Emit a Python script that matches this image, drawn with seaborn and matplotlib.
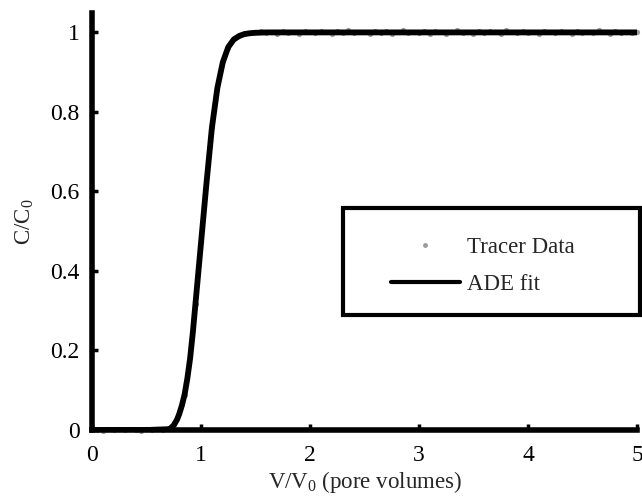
import matplotlib
matplotlib.use("Agg")
import matplotlib.pyplot as plt
from matplotlib.patches import Rectangle
from matplotlib.lines import Line2D
import seaborn as sns
import pandas as pd

# ---- data ----
tracer_v = [0.00, 0.05, 0.10, 0.15, 0.20, 0.25, 0.30, 0.35, 0.40, 0.45,
            0.50, 0.55, 0.60, 0.65, 0.70, 0.75, 0.80, 0.85, 0.90, 0.95,
            1.00, 1.05, 1.10, 1.15, 1.20, 1.25, 1.30, 1.35, 1.40, 1.45,
            1.50, 1.55, 1.60, 1.65, 1.70, 1.75, 1.80, 1.85, 1.90, 1.95,
            2.00, 2.05, 2.10, 2.15, 2.20, 2.25, 2.30, 2.35, 2.40, 2.45,
            2.50, 2.55, 2.60, 2.65, 2.70, 2.75, 2.80, 2.85, 2.90, 2.95,
            3.00, 3.05, 3.10, 3.15, 3.20, 3.25, 3.30, 3.35, 3.40, 3.45,
            3.50, 3.55, 3.60, 3.65, 3.70, 3.75, 3.80, 3.85, 3.90, 3.95,
            4.00, 4.05, 4.10, 4.15, 4.20, 4.25, 4.30, 4.35, 4.40, 4.45,
            4.50, 4.55, 4.60, 4.65, 4.70, 4.75, 4.80, 4.85, 4.90, 4.95,
            5.00]
tracer_c = [0.003, 0.001, -0.002, 0.002, 0.000, 0.003, -0.001, 0.002, 0.001, -0.002,
            0.002, 0.000, 0.003, -0.001, 0.003, 0.014, 0.042, 0.088, 0.183, 0.318,
            0.472, 0.618, 0.762, 0.857, 0.927, 0.962, 0.985, 0.991, 0.996, 0.998,
            1.002, 1.003, 0.998, 1.001, 0.997, 1.004, 0.999, 1.002, 0.996, 1.003,
            1.000, 0.998, 1.004, 1.001, 0.997, 1.003, 0.999, 1.005, 0.998, 1.002,
            1.000, 0.997, 1.004, 0.999, 1.003, 0.996, 1.001, 1.005, 0.998, 1.002,
            0.999, 1.004, 0.997, 1.003, 1.000, 0.996, 1.002, 1.005, 0.999, 1.001,
            0.997, 1.004, 0.998, 1.003, 1.000, 0.997, 1.005, 1.001, 0.998, 1.003,
            0.999, 1.002, 0.996, 1.004, 1.000, 0.998, 1.003, 1.001, 0.997, 1.004,
            0.999, 1.002, 0.998, 1.005, 1.000, 0.997, 1.003, 0.999, 1.002, 0.998,
            1.001]

fit_v = [0.0, 0.5, 0.7, 0.72, 0.75, 0.78, 0.8, 0.825, 0.85, 0.875, 0.9, 0.925,
         0.95, 1.0, 1.05, 1.1, 1.15, 1.2, 1.25, 1.3, 1.35, 1.4, 1.45, 1.5,
         1.6, 2.0, 3.0, 4.0, 5.0]
fit_c = [0.0, 0.0, 0.002, 0.004, 0.012, 0.026, 0.04, 0.062, 0.09, 0.13, 0.18, 0.245,
         0.32, 0.47, 0.62, 0.76, 0.86, 0.925, 0.963, 0.982, 0.991, 0.996, 0.998, 0.999,
         1.0, 1.0, 1.0, 1.0, 1.0]

x_ticks = [0, 1, 2, 3, 4, 5]
x_tick_labels = ["0", "1", "2", "3", "4", "5"]
y_ticks = [0, 0.2, 0.4, 0.6, 0.8, 1.0]
y_tick_labels = ["0", "0.2", "0.4", "0.6", "0.8", "1"]

series_labels = ["Tracer Data", "ADE fit"]
x_label = "V/V$_\\mathregular{0}$ (pore volumes)"
y_label = "C/C$_\\mathregular{0}$"

# ---- styling ----
sns.set_style("ticks")
plt.rcParams["font.family"] = ["Liberation Serif", "DejaVu Serif"]
plt.rcParams["mathtext.fontset"] = "custom"
plt.rcParams["mathtext.rm"] = "Liberation Serif"
plt.rcParams["mathtext.it"] = "Liberation Serif:italic"
plt.rcParams["font.size"] = 16

tracer_df = pd.DataFrame({"V": tracer_v, "C": tracer_c})
fit_df = pd.DataFrame({"V": fit_v, "C": fit_c})

fig = plt.figure(figsize=(6.42, 4.97), dpi=100)
ax = fig.add_axes([0.1433, 0.1348, 0.8489, 0.8384])

sns.scatterplot(data=tracer_df, x="V", y="C", ax=ax, color="#9a9a9a", s=14,
                linewidth=0, zorder=1, clip_on=False)
sns.lineplot(data=fit_df, x="V", y="C", ax=ax, color="black", linewidth=4.2,
             zorder=2, sort=False)

ax.set_xlim(0, 5)
ax.set_ylim(0, 1.048)
ax.set_xticks(x_ticks)
ax.set_xticklabels(x_tick_labels)
ax.set_yticks(y_ticks)
ax.set_yticklabels(y_tick_labels)
ax.tick_params(axis="both", direction="in", length=4, width=2.5, labelsize=17,
               colors="black")
ax.tick_params(axis="x", pad=11)
ax.tick_params(axis="y", pad=9)

for side in ["top", "right"]:
    ax.spines[side].set_visible(False)
for side in ["left", "bottom"]:
    ax.spines[side].set_linewidth(4)
    ax.spines[side].set_color("black")

ax.set_xlabel(x_label, fontsize=16.5, labelpad=2)
ax.set_ylabel(y_label, fontsize=16.5, labelpad=10)

# legend box (enlarged frame as in the reference)
ax.add_patch(Rectangle((0.4606, 0.276), 0.545, 0.257, transform=ax.transAxes,
                       fill=True, facecolor="white", edgecolor="black",
                       linewidth=3, clip_on=False, zorder=5))
handles = [Line2D([], [], linestyle="none", marker="o", markersize=3.5,
                  markerfacecolor="#9a9a9a", markeredgewidth=0),
           Line2D([], [], color="black", linewidth=3)]
leg = ax.legend(handles, series_labels, loc="center left",
                bbox_to_anchor=(0.5486, 0.393), frameon=False, borderpad=0,
                borderaxespad=0, handlelength=3.0, handletextpad=0.3,
                labelspacing=0.7, fontsize=16.5)
leg.set_zorder(6)

fig.savefig("out.png", dpi=100)
